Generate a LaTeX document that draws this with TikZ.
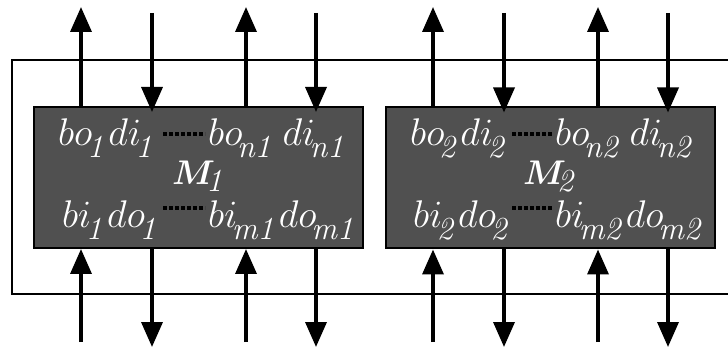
\documentclass[tikz,border=0pt]{standalone}
\usepackage{bm}
\usepackage{graphicx}
\usetikzlibrary{arrows.meta}
\DeclareMathSizes{20.74}{20.74}{16}{12}
\definecolor{boxgray}{HTML}{505050}
\newcommand{\bigtxt}[1]{\scalebox{1.86}{\huge #1}}
\newcommand{\lowsub}[1]{_{\!\raisebox{-3.2pt}{$\scriptstyle\mathit{#1}$}}}
\newcommand{\modlabel}[1]{\scalebox{1.65}{\huge$\bm{M}$}\hspace*{-9pt}\raisebox{-7pt}{\scalebox{1.86}{\huge$\scriptstyle\mathit{#1}$}}}
\tikzset{
  mbox/.style={draw=black, line width=2pt, fill=boxgray, minimum width=329pt, minimum height=141pt, inner sep=0pt},
  lbl/.style={text=white, inner sep=0pt},
  arr/.style={line width=3.5pt, -{Triangle[length=25pt,width=21pt]}},
  dots/.style={line width=3.5pt, dash pattern=on 3.5pt off 2.5pt},
  frame/.style={line width=2pt}
}
\begin{document}
\begin{tikzpicture}[x=1pt,y=-1pt]
\useasboundingbox (0,0) rectangle (728,347);
% outer frame
\coordinate (f1) at (730,60);
\coordinate (f2) at (12,60);
\coordinate (f3) at (12,294);
\coordinate (f4) at (730,294);
\draw[frame] (f1) -- (f2) -- (f3) -- (f4);
% modules
\node[mbox] (m1) at (198.5,177.5) {};
\node[mbox] (m2) at (550.5,178) {};
% labels module 1
\node[lbl, anchor=base west] (a1) at (58,146) {\bigtxt{$bo\lowsub{1}di\lowsub{1}$}};
\node[lbl, anchor=base west] (b1) at (208,146) {\bigtxt{$bo\lowsub{n1}\,di\lowsub{n1}$}};
\node[lbl, anchor=base west] (c1) at (172,185) {\modlabel{1}};
\node[lbl, anchor=base west] (d1) at (62,228) {\bigtxt{$bi\lowsub{1}do\lowsub{1}$}};
\node[lbl, anchor=base west] (e1) at (208,228) {\bigtxt{$bi\lowsub{m1}do\lowsub{m1}$}};
% labels module 2
\node[lbl, anchor=base west] (a2) at (410,146) {\bigtxt{$bo\lowsub{2}di\lowsub{2}$}};
\node[lbl, anchor=base west] (b2) at (555,146) {\bigtxt{$bo\lowsub{n2}\,di\lowsub{n2}$}};
\node[lbl, anchor=base west] (c2) at (523,185) {\modlabel{2}};
\node[lbl, anchor=base west] (d2) at (413,228) {\bigtxt{$bi\lowsub{2}do\lowsub{2}$}};
\node[lbl, anchor=base west] (e2) at (555,228) {\bigtxt{$bi\lowsub{m2}do\lowsub{m2}$}};
% dotted links
\coordinate (p1) at (163,134); \coordinate (q1) at (205,134);
\coordinate (r1) at (163,208); \coordinate (s1) at (205,208);
\coordinate (p2) at (512,134); \coordinate (q2) at (553,134);
\coordinate (r2) at (512,208); \coordinate (s2) at (553,208);
\draw[dots] (p1) -- (q1);
\draw[dots] (r1) -- (s1);
\draw[dots] (p2) -- (q2);
\draw[dots] (r2) -- (s2);
% arrows
\foreach \xa/\xb/\xc/\xd/\m in {81/152/246/316/m1, 433/504/598/668/m2}{
  \coordinate (ta) at (\xa,7);
  \coordinate (tb) at (\xb,13);
  \coordinate (tc) at (\xc,7);
  \coordinate (td) at (\xd,13);
  \coordinate (ba) at (\xa,342);
  \coordinate (bb) at (\xb,347);
  \coordinate (bc) at (\xc,342);
  \coordinate (bd) at (\xd,347);
  \draw[arr] (\m.north -| ta) -- (ta);
  \draw[arr] (tb) -- ([yshift=-6pt]\m.north -| tb);
  \draw[arr] (\m.north -| tc) -- (tc);
  \draw[arr] (td) -- ([yshift=-6pt]\m.north -| td);
  \draw[arr] (ba) -- (\m.south -| ba);
  \draw[arr] (\m.south -| bb) -- (bb);
  \draw[arr] (bc) -- (\m.south -| bc);
  \draw[arr] (\m.south -| bd) -- (bd);
}
\end{tikzpicture}
\end{document}
